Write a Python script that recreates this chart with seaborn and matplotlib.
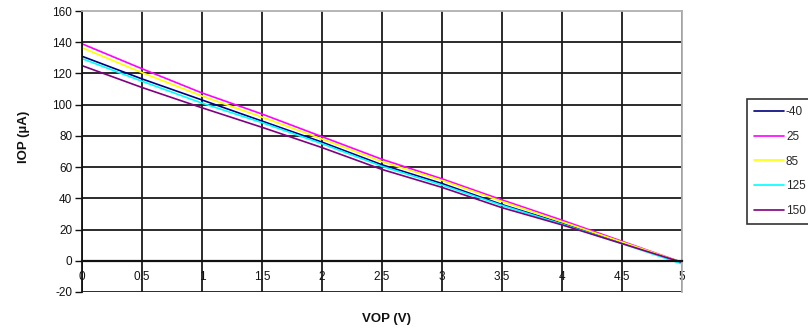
import numpy as np
import pandas as pd
import matplotlib
matplotlib.use('Agg')
import matplotlib.pyplot as plt
import seaborn as sns

# Valores (IOP em uA para cada temperatura)
vop = [0, 0.5, 1, 1.5, 2, 2.5, 3, 3.5, 4, 4.5, 5]
temps = ['-40', '25', '85', '125', '150']
iop_m40 = [131, 116.5, 103, 89.5, 76, 61.5, 49.5, 36, 24, 11.5, -1]
iop_25 = [139, 123, 107.5, 94, 79.5, 65, 52.5, 39, 26, 12.5, -1]
iop_85 = [136.5, 120.5, 105.5, 92, 78, 63.5, 51.5, 38, 25, 12, -1]
iop_125 = [129.5, 115, 101, 88.5, 75, 60.5, 48.5, 35.5, 23.5, 11, -2]
iop_150 = [125, 111, 98, 85.5, 72.5, 58.5, 47, 34, 23, 11, -1]
cores = ['#000080', '#FF00FF', '#FFFF00', '#00FFFF', '#800080']

series = [iop_m40, iop_25, iop_85, iop_125, iop_150]
df = pd.concat([pd.DataFrame({'VOP': vop, 'IOP': s, 'T': t}) for t, s in zip(temps, series)])

sns.set_theme(style='white')
plt.rcParams['font.family'] = ['Liberation Sans', 'DejaVu Sans']
plt.rcParams['axes.unicode_minus'] = False

fig, ax = plt.subplots(figsize=(8.08, 3.32), dpi=100)
fig.subplots_adjust(left=82/808, right=682/808, top=1-11/332, bottom=1-292/332)

sns.lineplot(data=df, x='VOP', y='IOP', hue='T', hue_order=temps,
             palette=dict(zip(temps, cores)), linewidth=1.2, ax=ax)

ax.set_xlim(0, 5)
ax.set_ylim(-20, 160)
ax.set_xticks(np.arange(0, 5.01, 0.5))
ax.set_xticklabels(['0', '0.5', '1', '1.5', '2', '2.5', '3', '3.5', '4', '4.5', '5'])
ax.set_yticks(np.arange(-20, 161, 20))
ax.tick_params(axis='x', length=0, pad=7, labelsize=8.5, colors='#111111')
ax.tick_params(axis='y', length=5, width=1, direction='out', left=True, pad=2,
               labelsize=8.5, colors='#111111')

ax.grid(True, color='#1a1a1a', linewidth=1.3)
ax.get_xgridlines()[-1].set_visible(False)
ax.get_ygridlines()[-1].set_visible(False)
ax.set_axisbelow(True)

ax.spines['bottom'].set_position(('data', 0))
ax.spines['bottom'].set_color('#111111')
ax.spines['bottom'].set_linewidth(1.6)
ax.spines['left'].set_color('#111111')
ax.spines['left'].set_linewidth(1.3)
for s in ['top', 'right']:
    ax.spines[s].set_color('#b0b0b0')
    ax.spines[s].set_linewidth(1.3)

ax.set_xlabel('VOP (V)', fontsize=9.5, fontweight='bold', color='#111111')
ax.set_ylabel('IOP (µA)', fontsize=9.5, fontweight='bold', color='#111111')
ax.xaxis.set_label_coords(0.508, -0.075)
ax.yaxis.set_label_coords(-0.087, 0.552)

sns.move_legend(ax, loc='upper left', bbox_to_anchor=(747/808, 1-99/332),
                bbox_transform=fig.transFigure, title=None, frameon=True,
                fancybox=False, edgecolor='black', fontsize=8.5,
                handlelength=2.5, handletextpad=0.2, labelspacing=1.08,
                borderpad=0.6, borderaxespad=0)
ax.get_legend().get_frame().set_linewidth(1.2)

fig.savefig('out.png', dpi=100)
